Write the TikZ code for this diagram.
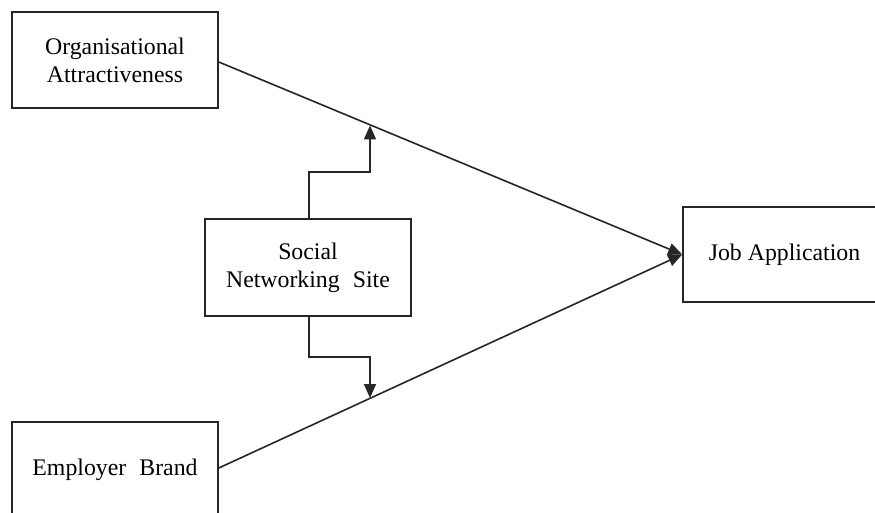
\documentclass[tikz,border=0pt]{standalone}
\usepackage{fontspec}
\setmainfont{Liberation Serif}
\usetikzlibrary{arrows.meta}
\begin{document}
\begin{tikzpicture}[x=1pt,y=-1pt,
  box/.style={draw=black!85, line width=1.6pt, fill=white, inner sep=0pt, align=center,
    font=\fontsize{23.8}{28}\selectfont},
  conn/.style={draw=black!85, line width=1.6pt},
  tip/.style={-{Triangle[length=14pt,width=12pt]}}]
\useasboundingbox (0,0) rectangle (875,513);
\node[box, minimum width=206pt, minimum height=96pt] (oa) at (115,60) {Organisational\\Attractiveness};
\node[box, minimum width=206pt, minimum height=97pt] (sns) at (308,267.5) {Social\\Networking\hspace{0.3em} Site};
\node[box, minimum width=195pt, minimum height=95pt] (ja) at (780.5,254.5) {\hspace{8pt}Job Application};
\node[box, minimum width=206pt, minimum height=96pt] (eb) at (115,470) {Employer\hspace{0.3em} Brand};
\coordinate (ua) at (370,125.5);
\coordinate (la) at (370,398);
\draw[conn, tip] (oa.east |- 0,62) -- (ja.west);
\draw[conn, tip] (eb.east |- 0,468) -- (ja.west);
\draw[conn, tip] (sns.north -| 309,0) |- (340,172) -| (ua);
\draw[conn, tip] (sns.south -| 309,0) |- (340,357) -| (la);
\end{tikzpicture}
\end{document}
